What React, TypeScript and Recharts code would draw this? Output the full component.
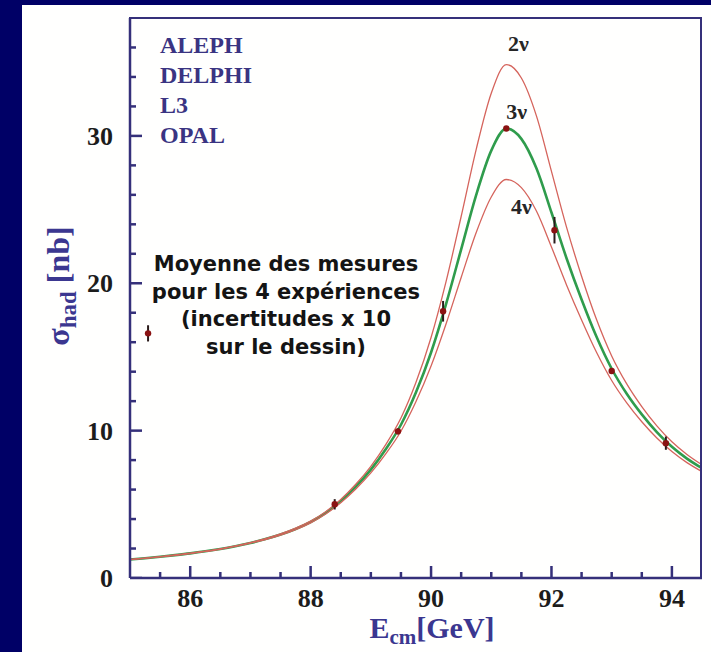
import {
  ComposedChart,
  Line,
  Scatter,
  ErrorBar,
  XAxis,
  YAxis,
  ReferenceDot,
  Label,
} from 'recharts';

const energies = [
  85.0, 85.25, 85.5, 85.75, 86.0, 86.25, 86.5, 86.75, 87.0, 87.25, 87.5, 87.75, 88.0, 88.25, 88.5,
  88.75, 89.0, 89.25, 89.5, 89.75, 90.0, 90.25, 90.5, 90.75, 91.0, 91.25, 91.5, 91.75, 92.0, 92.25,
  92.5, 92.75, 93.0, 93.25, 93.5, 93.75, 94.0, 94.25, 94.5,
];
const sigma2nu = [
  1.26, 1.35, 1.45, 1.56, 1.68, 1.82, 1.98, 2.18, 2.4, 2.67, 2.99, 3.38, 3.86, 4.5, 5.33, 6.36, 7.58,
  9.07, 10.86, 13.28, 16.32, 20.13, 24.53, 29.09, 32.9, 34.84, 33.93, 31.36, 27.59, 23.81, 20.48,
  17.52, 15.07, 13.17, 11.63, 10.32, 9.24, 8.38, 7.68,
];
const sigma3nu = [
  1.25, 1.34, 1.44, 1.55, 1.67, 1.81, 1.97, 2.16, 2.38, 2.64, 2.95, 3.33, 3.8, 4.42, 5.22, 6.2, 7.35,
  8.75, 10.4, 12.6, 15.3, 18.6, 22.3, 26.0, 29.0, 30.5, 29.8, 27.8, 24.8, 21.7, 18.9, 16.35, 14.2,
  12.5, 11.1, 9.9, 8.9, 8.1, 7.45,
];
const sigma4nu = [
  1.24, 1.33, 1.43, 1.54, 1.66, 1.8, 1.95, 2.14, 2.36, 2.61, 2.91, 3.28, 3.74, 4.34, 5.11, 6.04, 7.13,
  8.44, 9.96, 11.97, 14.38, 17.25, 20.39, 23.44, 25.85, 27.04, 26.49, 24.9, 22.46, 19.89, 17.51,
  15.3, 13.4, 11.88, 10.6, 9.5, 8.58, 7.83, 7.22,
];

// measurements (errors drawn x10)
const measEnergy = [88.4, 89.45, 90.2, 91.25, 92.05, 93.0, 93.9];
const measSigma = [5.0, 9.95, 18.1, 30.5, 23.6, 14.05, 9.15];
const measErr = [0.35, 0.2, 0.7, 0.15, 0.9, 0.15, 0.45];

// sample point next to the caption
const sampleEnergy = [85.3];
const sampleSigma = [16.6];
const sampleErr = [0.55];

const xTicks = [85.5, 86, 86.5, 87, 87.5, 88, 88.5, 89, 89.5, 90, 90.5, 91, 91.5, 92, 92.5, 93, 93.5, 94];
const yTicks = [0, 2, 4, 6, 8, 10, 12, 14, 16, 18, 20, 22, 24, 26, 28, 30, 32, 34, 36];
const xLabelled = [86, 88, 90, 92, 94];
const yLabelled = [0, 10, 20, 30];

const curveLabels = [
  { E: 91.45, s: 36.3, text: '2ν' },
  { E: 91.42, s: 31.7, text: '3ν' },
  { E: 91.5, s: 25.2, text: '4ν' },
];
const detectors = ['ALEPH', 'DELPHI', 'L3', 'OPAL'];
const caption = ['Moyenne des mesures', 'pour les 4 expériences', '(incertitudes x 10', 'sur le dessin)'];

const X_MIN = 85;
const X_MAX = 94.5;
const Y_MIN = 0;
const Y_MAX = 38;

const curveData = energies.map((E, i) => ({
  E,
  nu2: sigma2nu[i],
  nu3: sigma3nu[i],
  nu4: sigma4nu[i],
}));
const measData = measEnergy.map((E, i) => ({ E, s: measSigma[i], err: measErr[i] }));
const sampleData = sampleEnergy.map((E, i) => ({ E, s: sampleSigma[i], err: sampleErr[i] }));
// inward tick marks, placed through the chart scales
const xTickData = xTicks.map((E) => ({ E, s: Y_MIN, major: xLabelled.includes(E) }));
const yTickData = yTicks.map((s) => ({ E: X_MIN, s, major: yLabelled.includes(s) }));

const NAVY = '#000066';
const AXIS = '#35307a';
const TITLE = '#3b3790';
const SERIF = '"Liberation Serif", "Times New Roman", serif';

function XTick(props: any) {
  const { x, y, payload } = props;
  const v = payload.value;
  if (!xLabelled.includes(v)) return <g />;
  return (
    <text x={x} y={y + 29} textAnchor="middle" fontFamily={SERIF} fontWeight="bold" fontSize={26} fill="#1c1c1c">
      {v}
    </text>
  );
}

function YTick(props: any) {
  const { x, y, payload } = props;
  const v = payload.value;
  if (!yLabelled.includes(v)) return <g />;
  return (
    <text x={x - 17} y={y + 9} textAnchor="end" fontFamily={SERIF} fontWeight="bold" fontSize={26} fill="#1c1c1c">
      {v}
    </text>
  );
}

function XTickMark(props: any) {
  const { cx, cy, payload } = props;
  const len = payload.major ? 12 : 6;
  return <rect x={cx - 1.25} y={cy - len} width={2.5} height={len} fill={AXIS} />;
}

function YTickMark(props: any) {
  const { cx, cy, payload } = props;
  const len = payload.major ? 12 : 6;
  return <rect x={cx} y={cy - 1.25} width={len} height={2.5} fill={AXIS} />;
}

function XTitle(props: any) {
  const { viewBox } = props;
  const cx = viewBox.x + viewBox.width / 2 + 16;
  return (
    <text x={cx} y={viewBox.y + 60} textAnchor="middle" fontFamily={SERIF} fontWeight="bold" fontSize={30} fill={TITLE}>
      E
      <tspan fontSize={21} dy={6}>cm</tspan>
      <tspan dy={-6}>[GeV]</tspan>
    </text>
  );
}

function YTitle(props: any) {
  const { viewBox } = props;
  const cx = 69;
  const cy = viewBox.y + viewBox.height / 2 - 12;
  return (
    <text
      x={cx}
      y={cy}
      transform={`rotate(-90 ${cx} ${cy})`}
      textAnchor="middle"
      fontFamily={SERIF}
      fontWeight="bold"
      fontSize={32}
      fill={TITLE}
    >
      σ
      <tspan fontSize={23} dy={7}>had</tspan>
      <tspan dy={-7}> [nb]</tspan>
    </text>
  );
}

function Dot(props: any) {
  const { cx, cy } = props;
  return <circle cx={cx} cy={cy} r={3.2} fill="#8a1212" />;
}

export default function App() {
  return (
    <div style={{ position: 'absolute', left: 0, top: 0, width: 711, height: 652, background: NAVY, overflow: 'hidden' }}>
      <div style={{ position: 'absolute', left: 22, top: 5, width: 689, height: 647, background: '#fffffe' }} />
      <div style={{ position: 'absolute', left: 0, top: 0 }}>
        <ComposedChart width={711} height={652} margin={{ top: 18, right: 9, bottom: 34, left: 70 }}>
          <XAxis
            dataKey="E"
            type="number"
            domain={[X_MIN, X_MAX]}
            ticks={xTicks}
            interval={0}
            tickSize={0}
            tickMargin={0}
            tickLine={false}
            tick={<XTick />}
            axisLine={{ stroke: AXIS, strokeWidth: 2.5 }}
            height={40}
            allowDataOverflow
          >
            <Label content={<XTitle />} />
          </XAxis>
          <YAxis
            type="number"
            domain={[Y_MIN, Y_MAX]}
            ticks={yTicks}
            interval={0}
            tickSize={0}
            tickMargin={0}
            tickLine={false}
            tick={<YTick />}
            axisLine={{ stroke: AXIS, strokeWidth: 2.5 }}
            width={60}
            allowDataOverflow
          >
            <Label content={<YTitle />} />
          </YAxis>
          <Scatter data={xTickData} dataKey="s" shape={<XTickMark />} isAnimationActive={false} />
          <Scatter data={yTickData} dataKey="s" shape={<YTickMark />} isAnimationActive={false} />
          <Line
            data={curveData}
            dataKey="nu3"
            type="monotone"
            stroke="#2f9c4c"
            strokeWidth={2.6}
            dot={false}
            isAnimationActive={false}
          />
          <Line
            data={curveData}
            dataKey="nu2"
            type="monotone"
            stroke="#d5645c"
            strokeWidth={1.3}
            dot={false}
            isAnimationActive={false}
          />
          <Line
            data={curveData}
            dataKey="nu4"
            type="monotone"
            stroke="#d5645c"
            strokeWidth={1.3}
            dot={false}
            isAnimationActive={false}
          />
          <Scatter data={measData} dataKey="s" shape={<Dot />} isAnimationActive={false}>
            <ErrorBar dataKey="err" direction="y" width={0} stroke="#2a1a1a" strokeWidth={2} isAnimationActive={false} />
          </Scatter>
          <Scatter data={sampleData} dataKey="s" shape={<Dot />} isAnimationActive={false}>
            <ErrorBar dataKey="err" direction="y" width={0} stroke="#2a1a1a" strokeWidth={2} isAnimationActive={false} />
          </Scatter>
          {curveLabels.map((c) => (
            <ReferenceDot key={c.text} x={c.E} y={c.s} r={0} fill="none" stroke="none" ifOverflow="visible">
              <Label
                value={c.text}
                position="center"
                fontFamily={SERIF}
                fontWeight="bold"
                fontSize={22}
                fill="#262626"
              />
            </ReferenceDot>
          ))}
        </ComposedChart>
      </div>
      {/* top and right sides of the plot frame */}
      <div
        style={{
          position: 'absolute',
          left: 129,
          top: 17,
          width: 573,
          height: 561,
          borderTop: `2.5px solid ${AXIS}`,
          borderRight: `2.5px solid ${AXIS}`,
          boxSizing: 'border-box',
          pointerEvents: 'none',
        }}
      />
      <div
        style={{
          position: 'absolute',
          left: 160,
          top: 30,
          fontFamily: SERIF,
          fontWeight: 'bold',
          fontSize: 24,
          lineHeight: '30px',
          color: '#3a3482',
        }}
      >
        {detectors.map((d) => (
          <div key={d}>{d}</div>
        ))}
      </div>
      <div
        style={{
          position: 'absolute',
          left: 126,
          top: 251,
          width: 320,
          textAlign: 'center',
          fontFamily: '"DejaVu Sans", Verdana, sans-serif',
          fontWeight: 'bold',
          fontSize: 21,
          lineHeight: '27.5px',
          color: '#141414',
        }}
      >
        {caption.map((c) => (
          <div key={c}>{c}</div>
        ))}
      </div>
    </div>
  );
}
